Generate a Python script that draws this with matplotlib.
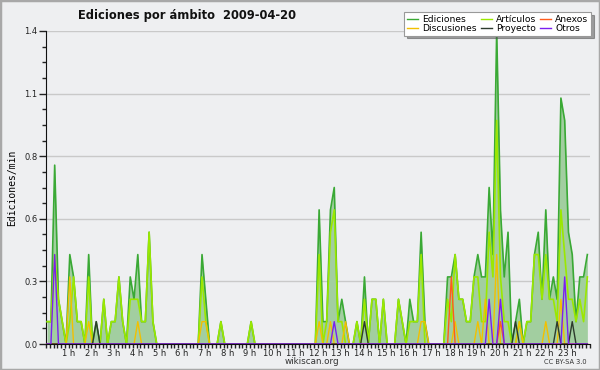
import numpy as np
import matplotlib
matplotlib.use("Agg")
import matplotlib.pyplot as plt
from matplotlib.ticker import MultipleLocator, FixedLocator, FormatStrFormatter
from matplotlib.lines import Line2D
from matplotlib.patches import Rectangle

# ediciones/min por tramo de 10 minutos (6 tramos por hora)
ediciones = [
    0.1, 0.1, 0.8, 0.2, 0.1, 0.0,   # 0 h
    0.4, 0.3, 0.1, 0.1, 0.0, 0.4,   # 1 h
    0.0, 0.1, 0.0, 0.2, 0.0, 0.1,   # 2 h
    0.1, 0.3, 0.1, 0.0, 0.3, 0.2,   # 3 h
    0.4, 0.1, 0.1, 0.5, 0.1, 0.0,   # 4 h
    0.0, 0.0, 0.0, 0.0, 0.0, 0.0,   # 5 h
    0.0, 0.0, 0.0, 0.0, 0.0, 0.4,   # 6 h
    0.2, 0.0, 0.0, 0.0, 0.1, 0.0,   # 7 h
    0.0, 0.0, 0.0, 0.0, 0.0, 0.0,   # 8 h
    0.1, 0.0, 0.0, 0.0, 0.0, 0.0,   # 9 h
    0.0, 0.0, 0.0, 0.0, 0.0, 0.0,   # 10 h
    0.0, 0.0, 0.0, 0.0, 0.0, 0.0,   # 11 h
    0.6, 0.1, 0.1, 0.6, 0.7, 0.1,   # 12 h
    0.2, 0.1, 0.0, 0.0, 0.1, 0.0,   # 13 h
    0.3, 0.0, 0.2, 0.2, 0.0, 0.2,   # 14 h
    0.0, 0.0, 0.0, 0.2, 0.1, 0.0,   # 15 h
    0.2, 0.1, 0.1, 0.5, 0.1, 0.0,   # 16 h
    0.0, 0.0, 0.0, 0.0, 0.3, 0.3,   # 17 h
    0.4, 0.2, 0.2, 0.1, 0.1, 0.3,   # 18 h
    0.4, 0.3, 0.3, 0.7, 0.4, 1.4,   # 19 h
    0.6, 0.3, 0.5, 0.0, 0.1, 0.2,   # 20 h
    0.0, 0.1, 0.1, 0.4, 0.5, 0.2,   # 21 h
    0.6, 0.2, 0.3, 0.2, 1.1, 1.0,   # 22 h
    0.5, 0.4, 0.1, 0.3, 0.3, 0.4,   # 23 h
]

articulos = [
    0.1, 0.1, 0.4, 0.2, 0.1, 0.0,
    0.1, 0.3, 0.1, 0.1, 0.0, 0.3,
    0.0, 0.0, 0.0, 0.2, 0.0, 0.1,
    0.1, 0.3, 0.1, 0.0, 0.2, 0.2,
    0.2, 0.1, 0.1, 0.5, 0.1, 0.0,
    0.0, 0.0, 0.0, 0.0, 0.0, 0.0,
    0.0, 0.0, 0.0, 0.0, 0.0, 0.3,
    0.1, 0.0, 0.0, 0.0, 0.1, 0.0,
    0.0, 0.0, 0.0, 0.0, 0.0, 0.0,
    0.1, 0.0, 0.0, 0.0, 0.0, 0.0,
    0.0, 0.0, 0.0, 0.0, 0.0, 0.0,
    0.0, 0.0, 0.0, 0.0, 0.0, 0.0,
    0.4, 0.0, 0.1, 0.5, 0.6, 0.1,
    0.1, 0.0, 0.0, 0.0, 0.1, 0.0,
    0.2, 0.0, 0.2, 0.2, 0.0, 0.2,
    0.0, 0.0, 0.0, 0.2, 0.1, 0.0,
    0.1, 0.1, 0.1, 0.4, 0.0, 0.0,
    0.0, 0.0, 0.0, 0.0, 0.2, 0.1,
    0.4, 0.2, 0.2, 0.1, 0.1, 0.3,
    0.3, 0.1, 0.1, 0.5, 0.3, 1.0,
    0.3, 0.1, 0.1, 0.0, 0.0, 0.1,
    0.0, 0.1, 0.1, 0.4, 0.4, 0.2,
    0.4, 0.2, 0.2, 0.1, 0.6, 0.4,
    0.2, 0.2, 0.1, 0.2, 0.1, 0.3,
]

# series con pocos valores: tramo -> valor (el resto es 0)
disc_tramos = [6, 11, 24, 41, 42, 72, 75, 79, 99, 100, 108, 114, 116, 119, 125, 132, 136]
disc_valores = [0.3, 0.1, 0.1, 0.1, 0.1, 0.1, 0.1, 0.1, 0.1, 0.1, 0.1, 0.1, 0.2, 0.4, 0.1, 0.1, 0.2]
anex_tramos = [107, 120]
anex_valores = [0.3, 0.1]
proy_tramos = [13, 84, 124, 135, 139]
proy_valores = [0.1, 0.1, 0.1, 0.1, 0.1]
otros_tramos = [2, 76, 117, 120, 137]
otros_valores = [0.4, 0.1, 0.2, 0.2, 0.3]

horas = list(range(25))
etiquetas_horas = [''] + ['%d h' % h for h in range(1, 24)] + ['']
yticks = [0, 0.28, 0.56, 0.84, 1.12, 1.4]

n = len(ediciones)
x = np.arange(n) * 10 + 3  # minutos


def serie(tramos, valores):
    s = np.zeros(n)
    s[tramos] = valores
    return s


discusiones = serie(disc_tramos, disc_valores)
anexos = serie(anex_tramos, anex_valores)
proyecto = serie(proy_tramos, proy_valores)
otros = serie(otros_tramos, otros_valores)

fondo = '#eeeff1'
c_ed = '#3aa935'
c_fill = '#a2cea0'
c_art = '#9be800'
c_disc = '#f2c000'
c_anex = '#ff5b1c'
c_proy = '#2d3b2d'
c_otros = '#7b1ff0'

fig = plt.figure(figsize=(6, 3.7), dpi=100, facecolor=fondo)
ax = fig.add_axes([46 / 600, 26 / 370, 544 / 600, 313 / 370])
ax.set_facecolor(fondo)

ax.fill_between(x, ediciones, color=c_fill, lw=0, zorder=2)
ax.plot(x, ediciones, color=c_ed, lw=1.2, zorder=3)
ax.plot(x, articulos, color=c_art, lw=1.2, zorder=4)
ax.plot(x, discusiones, color=c_disc, lw=1.0, zorder=5)
ax.plot(x, anexos, color=c_anex, lw=1.0, zorder=5)
ax.plot(x, proyecto, color=c_proy, lw=1.0, zorder=5)
ax.plot(x, otros, color=c_otros, lw=1.0, zorder=6)

ax.set_xlim(0, 1440)
ax.set_ylim(0, 1.4)

ax.yaxis.set_major_locator(FixedLocator(yticks))
ax.yaxis.set_minor_locator(MultipleLocator(0.07))
ax.yaxis.set_major_formatter(FormatStrFormatter('%.1f'))
ax.xaxis.set_major_locator(FixedLocator([h * 60 for h in horas]))
ax.set_xticklabels(etiquetas_horas)
ax.xaxis.set_minor_locator(MultipleLocator(10))

ax.tick_params(axis='y', which='major', length=5, width=1, labelsize=6, pad=1, colors='#222')
ax.tick_params(axis='y', which='minor', length=3, width=1, colors='#222')
ax.tick_params(axis='x', which='both', length=3, width=1, labelsize=6, pad=0.5, colors='#222')

for yv in yticks[1:]:
    ax.axhline(yv, color='#c9c9c9', lw=1, zorder=1)

for lado in ['top', 'right']:
    ax.spines[lado].set_visible(False)
ax.spines['left'].set_color('#111')
ax.spines['bottom'].set_color('#111')

ax.set_ylabel('Ediciones/min', family='DejaVu Sans Mono', fontsize=7, labelpad=5)

fig.text(187 / 600, 1 - 15 / 370, 'Ediciones por ámbito  2009-04-20',
         ha='center', va='center', fontsize=8.3, fontweight='bold', color='#111')
fig.text(312 / 600, 1 - 362 / 370, 'wikiscan.org', ha='center', va='center',
         fontsize=6.3, color='#333')
fig.text(565 / 600, 1 - 362 / 370, 'CC BY-SA 3.0', ha='center', va='center',
         fontsize=4.8, color='#333')

handles = [
    Line2D([], [], color=c_ed, lw=1, label='Ediciones'),
    Line2D([], [], color=c_disc, lw=1, label='Discusiones'),
    Line2D([], [], color=c_art, lw=1, label='Artículos'),
    Line2D([], [], color=c_proy, lw=1, label='Proyecto'),
    Line2D([], [], color=c_anex, lw=1, label='Anexos'),
    Line2D([], [], color=c_otros, lw=1, label='Otros'),
]
leg = ax.legend(handles=handles, ncol=3, loc='upper right',
                bbox_to_anchor=(591 / 600, 1 - 12 / 370), bbox_transform=fig.transFigure,
                fontsize=6.6, frameon=True, fancybox=False, shadow=True,
                borderpad=0.3, handlelength=1.2, handletextpad=0.4,
                columnspacing=0.5, labelspacing=0.0, borderaxespad=0)
leg.get_frame().set_edgecolor('#999')
leg.get_frame().set_linewidth(0.8)
leg.set_zorder(10)

# marco gris alrededor de la imagen
fig.patches.append(Rectangle((0, 0), 1, 1, transform=fig.transFigure, fill=False,
                             edgecolor='#a8a8a8', lw=2.5))

fig.savefig('out.png', dpi=100, facecolor=fondo)
